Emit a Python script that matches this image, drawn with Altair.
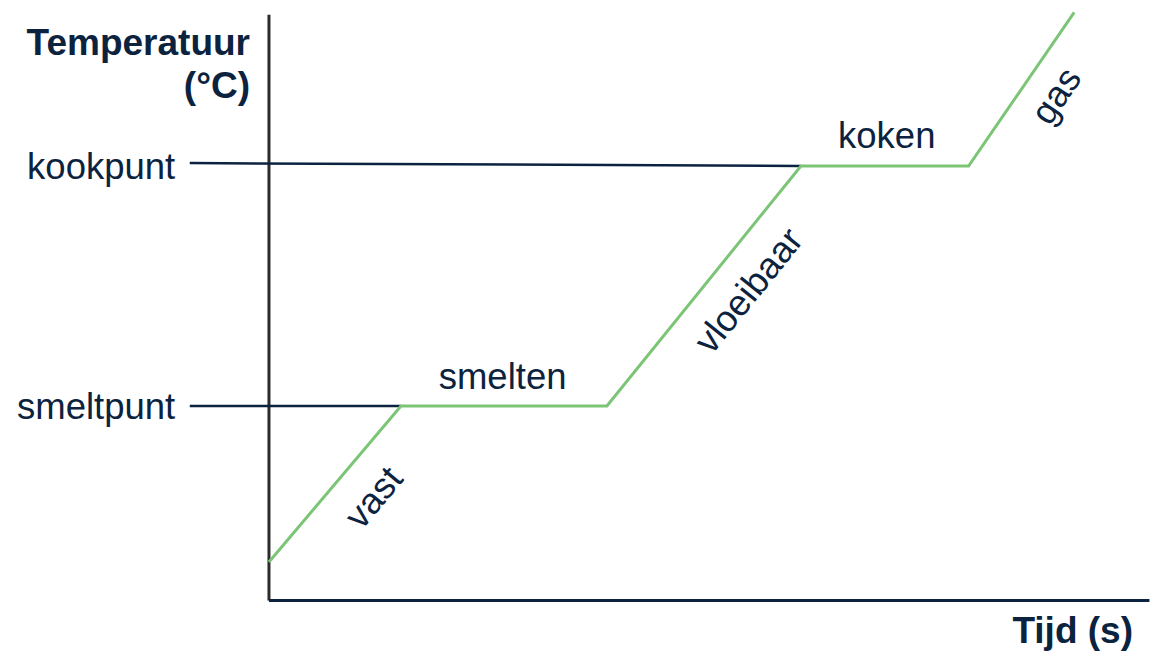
import altair as alt
import pandas as pd

# Heating curve (time in s, temperature in °C; smeltpunt = 0, kookpunt = 100)
time = [0, 10, 25.6, 40.3, 53, 61]
temp = [-65, 0, 0, 100, 100, 164]

phase_labels = ["vast", "smelten", "vloeibaar", "koken", "gas"]
phase_t = [8.0, 17.7, 36.4, 46.8, 59.7]
phase_T = [-38.5, 11.5, 47.8, 112.0, 129.0]
phase_angle = [310, 0, 309, 0, 304]

ref_labels = ["kookpunt", "smeltpunt"]
ref_T_start = [101.2, 0]
ref_T_end = [100, 0]
ref_t_end = [40.3, 10]
ref_label_T = [99, -1]

NAVY = "#0c2340"
GREEN = "#7cc576"
FONT = "Liberation Sans"

xs = alt.Scale(domain=[-19.77, 67.5], nice=False, zero=False)
ys = alt.Scale(domain=[-104.17, 165.83], nice=False, zero=False)

curve = pd.DataFrame({"t": time, "T": temp, "i": range(len(time))})
refs = pd.DataFrame({"label": ref_labels, "T0": ref_T_start, "T1": ref_T_end,
                     "t0": [-6.0, -6.0], "t1": ref_t_end, "tl": [-7.1, -7.1],
                     "Tl": ref_label_T})
phases = pd.DataFrame({"label": phase_labels, "t": phase_t, "T": phase_T,
                       "angle": phase_angle})
axes = pd.DataFrame({"t0": [0, 0], "T0": [-81, -81], "t1": [0, 66.7],
                     "T1": [163, -81], "c": ["#2b2b2b", NAVY]})

X = lambda f: alt.X(f, type="quantitative", scale=xs, axis=None)
Y = lambda f: alt.Y(f, type="quantitative", scale=ys, axis=None)

axis_lines = alt.Chart(axes).mark_rule(strokeWidth=3).encode(
    x=X("t0"), y=Y("T0"), x2="t1", y2="T1",
    color=alt.Color("c:N", scale=None))

ref_lines = alt.Chart(refs).mark_rule(strokeWidth=2.5, color=NAVY).encode(
    x=X("t0"), y=Y("T0"), x2="t1", y2="T1")

ref_text = alt.Chart(refs).mark_text(
    align="right", baseline="middle", font=FONT, fontSize=36.5, color=NAVY
).encode(x=X("tl"), y=Y("Tl"), text="label:N")

line = alt.Chart(curve).mark_line(color=GREEN, strokeWidth=3).encode(
    x=X("t"), y=Y("T"), order="i:Q")

phase_text = alt.Chart(phases).mark_text(
    align="center", baseline="middle", font=FONT, fontSize=36.5, color=NAVY
).encode(x=X("t"), y=Y("T"), text="label:N", angle=alt.Angle("angle:Q", scale=None))

titles = pd.DataFrame({"text": ["Temperatuur", "(°C)", "Tijd (s)"],
                       "px": [242, 242, 1125], "py": [47, 90, 635]})
title_text = alt.Chart(titles).mark_text(
    align="right", baseline="alphabetic", font=FONT, fontSize=37,
    fontWeight="bold", color=NAVY
).encode(x=alt.X("px:Q", scale=None, axis=None),
         y=alt.Y("py:Q", scale=None, axis=None), text="text:N")

chart = alt.layer(axis_lines, ref_lines, line, ref_text, phase_text, title_text).properties(
    width=1152, height=648, padding=0, autosize="none"
).configure_view(stroke=None).resolve_scale(x="independent", y="independent")

chart.save("out.html", embed_options={"renderer": "svg", "actions": False})
